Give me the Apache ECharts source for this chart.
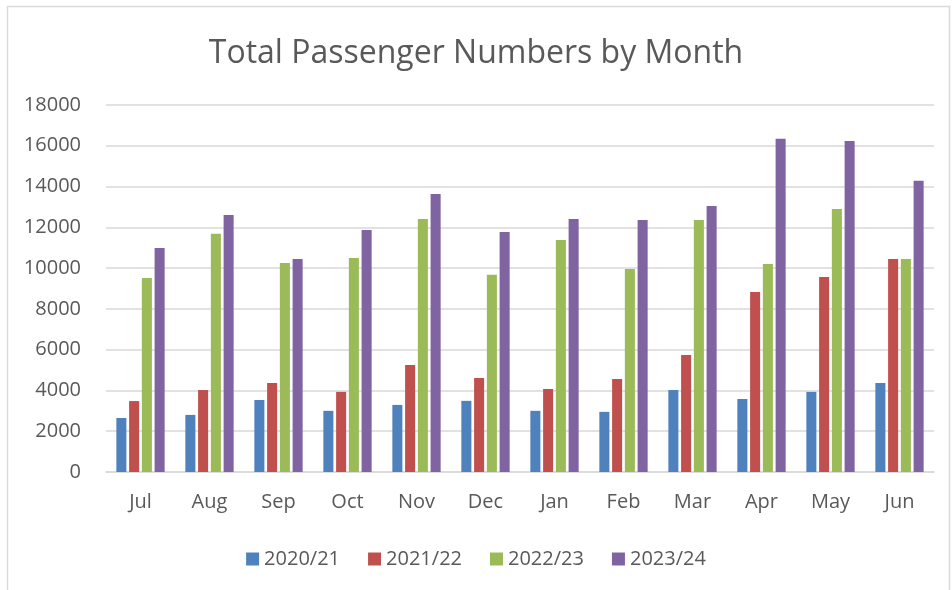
<!DOCTYPE html>
<html><head><meta charset="utf-8">
<script src="https://cdn.jsdelivr.net/npm/echarts@6/dist/echarts.min.js"></script>
<style>html,body{margin:0;padding:0;background:#fff}#c{width:952px;height:590px}</style>
</head><body><div id="c"></div>
<script>
const months = ["Jul","Aug","Sep","Oct","Nov","Dec","Jan","Feb","Mar","Apr","May","Jun"];
const s2020 = [2650,2800,3530,3000,3290,3490,3000,2950,4020,3580,3930,4370];
const s2021 = [3480,4020,4370,3930,5250,4610,4070,4560,5740,8830,9570,10450];
const s2022 = [9520,11680,10250,10500,12410,9670,11380,9960,12360,10200,12900,10450];
const s2023 = [10990,12610,10450,11870,13640,11770,12410,12360,13050,16340,16240,14280];
const seriesNames = ["2020/21","2021/22","2022/23","2023/24"];
const colors = ["#4F81BD","#C0504D","#9BBB59","#8064A2"];
const font = "'Open Sans', 'Liberation Sans', sans-serif";
const chart = echarts.init(document.getElementById('c'));
const data = [s2020,s2021,s2022,s2023];
chart.setOption({
  animation:false,
  color: colors,
  graphic:[{type:'rect',shape:{x:7.5,y:6.5,width:942,height:600},style:{fill:null,stroke:'#d9d9d9',lineWidth:1.5}}],
  title:{text:'Total Passenger Numbers by Month',left:'center',top:33,textStyle:{fontFamily:font,fontSize:32,fontWeight:'normal',color:'#595959'}},
  legend:{bottom:16,left:'center',itemWidth:13,itemHeight:13,itemGap:28,icon:'rect',textStyle:{fontFamily:font,fontSize:20,color:'#595959'},data:seriesNames},
  grid:{left:106,right:18,top:105,bottom:118},
  xAxis:{type:'category',data:months,axisLine:{lineStyle:{color:'#d9d9d9',width:1.5}},axisTick:{show:false},axisLabel:{fontFamily:font,fontSize:20,color:'#595959',margin:20}},
  yAxis:{type:'value',min:0,max:18000,interval:2000,axisLine:{show:false},axisTick:{show:false},splitLine:{lineStyle:{color:'#d9d9d9',width:1.5}},axisLabel:{fontFamily:font,fontSize:20,color:'#595959',margin:25,formatter:v=>String(v)}},
  series: seriesNames.map((n,i)=>({name:n,type:'bar',data:data[i],barGap:'27%',barCategoryGap:'30%'}))
});
</script></body></html>
